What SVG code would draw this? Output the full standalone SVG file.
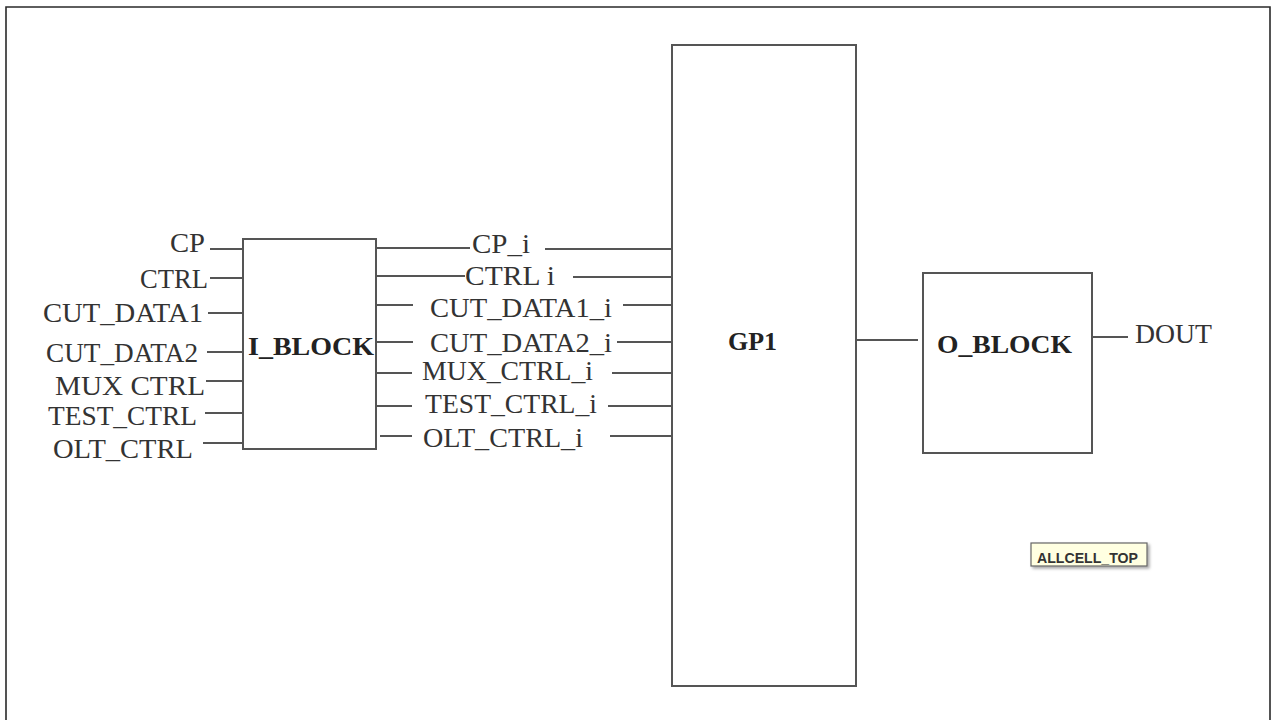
<svg xmlns="http://www.w3.org/2000/svg" width="1272" height="720" viewBox="0 0 1272 720">
<style>
.frame{fill:none;stroke:#2a2a2a;stroke-width:1.6}
.box{fill:#fff;stroke:#555;stroke-width:2}
.w{stroke:#555;stroke-width:2;fill:none}
.lbl{font-family:"Liberation Serif","Times New Roman",serif;font-size:27px;fill:#333}
.title{font-family:"Liberation Serif","Times New Roman",serif;font-size:26px;font-weight:bold;fill:#222}
.tip{font-family:"Liberation Sans",Arial,sans-serif;font-size:14.5px;font-weight:bold;fill:#333}
</style>
<defs>
<filter id="sh" x="-10%" y="-20%" width="130%" height="160%">
<feDropShadow dx="2" dy="2" stdDeviation="1.5" flood-color="#000" flood-opacity="0.35"/>
</filter>
</defs>
<rect width="1272" height="720" fill="#fff"/>
<path class="frame" d="M6,721 V7 H1270 V721"/>

<g id="connectors">
<line class="w" x1="210" y1="249" x2="243" y2="249"/>
<line class="w" x1="210" y1="278" x2="243" y2="278"/>
<line class="w" x1="208" y1="313" x2="243" y2="313"/>
<line class="w" x1="207" y1="352" x2="243" y2="352"/>
<line class="w" x1="206" y1="381" x2="243" y2="381"/>
<line class="w" x1="205" y1="413" x2="243" y2="413"/>
<line class="w" x1="203" y1="443" x2="243" y2="443"/>

<line class="w" x1="376" y1="248" x2="470" y2="248"/>
<line class="w" x1="545" y1="249" x2="672" y2="249"/>
<line class="w" x1="376" y1="276" x2="465" y2="276"/>
<line class="w" x1="573" y1="277" x2="672" y2="277"/>
<line class="w" x1="376" y1="305" x2="413" y2="305"/>
<line class="w" x1="623" y1="305" x2="672" y2="305"/>
<line class="w" x1="376" y1="342" x2="413" y2="342"/>
<line class="w" x1="617" y1="342" x2="672" y2="342"/>
<line class="w" x1="376" y1="373" x2="412" y2="373"/>
<line class="w" x1="612" y1="373" x2="672" y2="373"/>
<line class="w" x1="376" y1="406" x2="412" y2="406"/>
<line class="w" x1="608" y1="406" x2="672" y2="406"/>
<line class="w" x1="380" y1="436" x2="412" y2="436"/>
<line class="w" x1="610" y1="436" x2="672" y2="436"/>

<line class="w" x1="857" y1="340" x2="918" y2="340"/>
<line class="w" x1="1093" y1="337" x2="1128" y2="337"/>
</g>

<g id="input-labels">
<text class="lbl" x="170" y="252" textLength="35" lengthAdjust="spacingAndGlyphs">CP</text>
<text class="lbl" x="140" y="288" textLength="68" lengthAdjust="spacingAndGlyphs">CTRL</text>
<text class="lbl" x="43" y="322" textLength="160" lengthAdjust="spacingAndGlyphs">CUT_DATA1</text>
<text class="lbl" x="46" y="362" textLength="152" lengthAdjust="spacingAndGlyphs">CUT_DATA2</text>
<text class="lbl" x="55" y="395" textLength="150" lengthAdjust="spacingAndGlyphs">MUX CTRL</text>
<text class="lbl" x="48" y="425" textLength="149" lengthAdjust="spacingAndGlyphs">TEST_CTRL</text>
<text class="lbl" x="53" y="458" textLength="140" lengthAdjust="spacingAndGlyphs">OLT_CTRL</text>
</g>

<g id="internal-labels">
<text class="lbl" x="472" y="253" textLength="58" lengthAdjust="spacingAndGlyphs">CP_i</text>
<text class="lbl" x="465" y="285" textLength="90" lengthAdjust="spacingAndGlyphs">CTRL i</text>
<text class="lbl" x="430" y="317" textLength="182" lengthAdjust="spacingAndGlyphs">CUT_DATA1_i</text>
<text class="lbl" x="430" y="352" textLength="182" lengthAdjust="spacingAndGlyphs">CUT_DATA2_i</text>
<text class="lbl" x="422" y="380" textLength="171" lengthAdjust="spacingAndGlyphs">MUX_CTRL_i</text>
<text class="lbl" x="425" y="413" textLength="172" lengthAdjust="spacingAndGlyphs">TEST_CTRL_i</text>
<text class="lbl" x="423" y="447" textLength="160" lengthAdjust="spacingAndGlyphs">OLT_CTRL_i</text>
</g>

<g id="I_BLOCK">
<rect class="box" x="243" y="239" width="133" height="210"/>
<text class="title" x="248" y="355" textLength="126" lengthAdjust="spacingAndGlyphs">I_BLOCK</text>
</g>

<g id="GP1">
<rect class="box" x="672" y="45" width="184" height="641"/>
<text class="title" x="728" y="350" textLength="49" lengthAdjust="spacingAndGlyphs">GP1</text>
</g>

<g id="O_BLOCK">
<rect class="box" x="923" y="273" width="169" height="180"/>
<text class="title" x="937" y="353" textLength="135" lengthAdjust="spacingAndGlyphs">O_BLOCK</text>
</g>

<g id="DOUT">
<text class="lbl" x="1135" y="343" textLength="77" lengthAdjust="spacingAndGlyphs">DOUT</text>
</g>

<g id="ALLCELL_TOP">
<rect x="1031" y="543" width="116" height="23" fill="#ffffe1" stroke="#666" stroke-width="1.2" filter="url(#sh)"/>
<text class="tip" x="1037" y="563" textLength="101" lengthAdjust="spacingAndGlyphs">ALLCELL_TOP</text>
</g>
</svg>
